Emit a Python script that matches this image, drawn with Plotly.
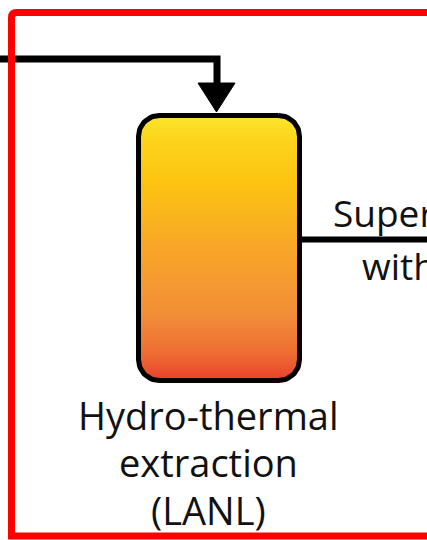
import numpy as np
import plotly.graph_objects as go

# Canvas size (px) - axes use pixel units, y pointing down
W, H = 427, 540

# Vessel (rounded box), outline centreline
box_x = [138.5, 299.5]
box_y = [115.5, 380.5]
box_radius = 21
box_colors = ["#FDE52F", "#FDD31A", "#FCC411", "#F8A628", "#F28E38", "#EE6C34", "#E8402B"]
box_stops = [0.0, 0.1, 0.25, 0.5, 0.75, 0.9, 1.0]

# Feed line coming in from the left, with arrow head into the vessel
feed_x = [0, 217, 217]
feed_y = [59, 59, 84]
arrow_x = [198, 235, 216.5]
arrow_y = [83, 83, 112]

# Outlet line to the right
out_x = [302, 440]
out_y = [239.5, 239.5]

# Red frame (left part of a larger box)
frame_x = [11.5, 440]
frame_y = [12.5, 536]

label_lines = ["Hydro-thermal", "extraction", "(LANL)"]
label_y = [415, 462, 510]
label_xc = 208

side_lines = ["Super", "with"]
side_x = [331, 360]
side_y = [212, 265]


def rounded_rect(x0, x1, y0, y1, r, n=16):
    xs, ys = [], []
    corners = [(x1 - r, y0 + r, -90, 0), (x1 - r, y1 - r, 0, 90),
               (x0 + r, y1 - r, 90, 180), (x0 + r, y0 + r, 180, 270)]
    for cx, cy, a0, a1 in corners:
        t = np.radians(np.linspace(a0, a1, n))
        xs += list(cx + r * np.cos(t))
        ys += list(cy + r * np.sin(t))
    xs.append(xs[0]); ys.append(ys[0])
    return xs, ys


fig = go.Figure()

# gradient runs bottom (red) -> top (yellow) in plot orientation
scale = [[1 - s, c] for s, c in zip(box_stops, box_colors)][::-1]

bx, by = rounded_rect(box_x[0], box_x[1], box_y[0], box_y[1], box_radius)
fig.add_trace(go.Scatter(
    x=bx, y=by, mode="lines", fill="toself",
    fillgradient=dict(type="vertical", colorscale=scale),
    line=dict(color="black", width=5), hoverinfo="skip", showlegend=False
))

shapes = [
    dict(type="path", path=f"M {feed_x[0]},{feed_y[0]} L {feed_x[1]},{feed_y[1]} L {feed_x[2]},{feed_y[2]}",
         line=dict(color="black", width=7)),
    dict(type="path", path=f"M {arrow_x[0]},{arrow_y[0]} L {arrow_x[1]},{arrow_y[1]} L {arrow_x[2]},{arrow_y[2]} Z",
         fillcolor="black", line=dict(color="black", width=1)),
    dict(type="line", x0=out_x[0], y0=out_y[0], x1=out_x[1], y1=out_y[1],
         line=dict(color="black", width=6)),
    dict(type="path",
         path=(f"M {frame_x[1]},{frame_y[0]} L {frame_x[0]+5},{frame_y[0]} "
               f"Q {frame_x[0]},{frame_y[0]} {frame_x[0]},{frame_y[0]+5} "
               f"L {frame_x[0]},{frame_y[1]} L {frame_x[1]},{frame_y[1]}"),
         line=dict(color="#FF0000", width=7)),
]
for s in shapes:
    s.update(xref="x", yref="y", layer="above")

annotations = []
for txt, y in zip(label_lines, label_y):
    annotations.append(dict(x=label_xc, y=y, text=txt, showarrow=False,
                            xanchor="center", yanchor="middle",
                            font=dict(family="Open Sans", size=38, color="#111111")))
for txt, x, y in zip(side_lines, side_x, side_y):
    annotations.append(dict(x=x, y=y, text=txt, showarrow=False,
                            xanchor="left", yanchor="middle",
                            font=dict(family="Open Sans", size=37, color="#111111")))

fig.update_layout(
    width=W, height=H, margin=dict(l=0, r=0, t=0, b=0),
    paper_bgcolor="white", plot_bgcolor="white",
    xaxis=dict(range=[0, W], visible=False, fixedrange=True),
    yaxis=dict(range=[H, 0], visible=False, fixedrange=True),
    shapes=shapes, annotations=annotations, showlegend=False
)

fig.write_html("out.html", config={"displayModeBar": False},
               post_script="document.body.style.margin='0';document.body.style.overflow='hidden';")
